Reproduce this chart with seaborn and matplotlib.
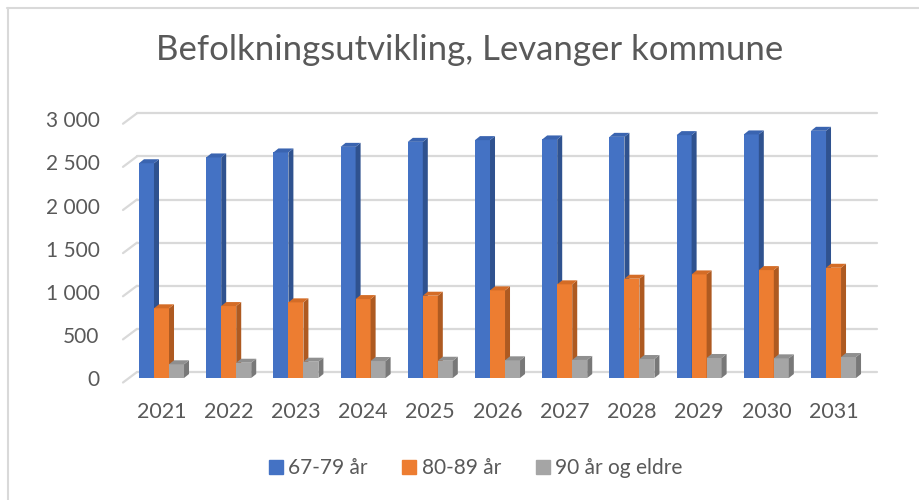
import matplotlib
matplotlib.use("Agg")
import matplotlib.pyplot as plt
import matplotlib.transforms as mtransforms
from matplotlib.patches import Polygon
from matplotlib.lines import Line2D
import seaborn as sns
import pandas as pd

# values
years = ["2021", "2022", "2023", "2024", "2025", "2026", "2027", "2028", "2029", "2030", "2031"]
grp_6779 = [2490, 2557, 2615, 2680, 2738, 2758, 2766, 2796, 2816, 2824, 2866]
grp_8089 = [808, 834, 877, 915, 954, 1016, 1086, 1151, 1201, 1251, 1278]
grp_90 = [159, 177, 189, 197, 200, 205, 209, 220, 232, 228, 243]
groups = ["67-79 år", "80-89 år", "90 år og eldre"]
yticks = [0, 500, 1000, 1500, 2000, 2500, 3000]

colors = ["#4472C4", "#ED7D31", "#A5A5A5"]
side_colors = ["#2F528F", "#AE5A21", "#787878"]
top_colors = ["#3A64B0", "#D46C26", "#8F8F8F"]
txt = "#595959"

rows = []
for name, vals in zip(groups, [grp_6779, grp_8089, grp_90]):
	for y, v in zip(years, vals):
		rows.append({"year": y, "group": name, "value": v})
df = pd.DataFrame(rows)

sns.set_theme(style="white")
plt.rcParams["font.family"] = ["Lato", "DejaVu Sans"]

W, H = 920, 500
fig = plt.figure(figsize=(W / 100, H / 100), dpi=100)
ax = fig.add_axes([137 / W, 122 / H, 740 / W, 276 / H])

sns.barplot(data=df, x="year", y="value", hue="group", palette=colors,
	width=0.67, dodge=True, ax=ax, legend=False, saturation=1, linewidth=0)
ax.set_xlim(-0.3646, 10.647)
ax.set_ylim(0, 3200)
for s in ax.spines.values():
	s.set_visible(False)
ax.set_xlabel("")
ax.set_ylabel("")
ax.set_yticks(yticks)
ax.set_yticklabels(["{:,}".format(v).replace(",", " ") for v in yticks], color=txt, fontsize=15)
ax.tick_params(axis="y", length=0, pad=27)
ax.tick_params(axis="x", length=0, pad=17, labelsize=15.5, labelcolor=txt)

fig.canvas.draw()
ident = mtransforms.IdentityTransform()

# back wall gridlines with the perspective stub on the left
x_left = ax.transAxes.transform((0, 0))[0]
x_right = ax.transAxes.transform((1, 0))[0]
for v in yticks:
	yf = ax.transData.transform((0, v))[1]
	ax.add_line(Line2D([x_left, x_right], [yf + 6, yf + 6], transform=ident,
		color="#D9D9D9", lw=1.6, zorder=0, clip_on=False))
	ax.add_line(Line2D([x_left - 14, x_left], [yf - 4.5, yf + 6], transform=ident,
		color="#D9D9D9", lw=1.6, zorder=0, clip_on=False))

# fake 3D: side and top faces for each bar
dx, dy = 5, 4
n = len(years)
for i, p in enumerate(ax.patches[:3 * n]):
	h = i // n
	p.set_zorder(2 + h)
	x0, y0 = ax.transData.transform((p.get_x(), 0))
	x1, y1 = ax.transData.transform((p.get_x() + p.get_width(), p.get_height()))
	side = Polygon([(x1, y0), (x1 + dx, y0 + dy), (x1 + dx, y1 + dy), (x1, y1)],
		closed=True, transform=ident, facecolor=side_colors[h], edgecolor="none", zorder=2 + h)
	top = Polygon([(x0, y1), (x1, y1), (x1 + dx, y1 + dy), (x0 + dx, y1 + dy)],
		closed=True, transform=ident, facecolor=top_colors[h], edgecolor="none", zorder=2 + h)
	ax.add_patch(side)
	ax.add_patch(top)

fig.text(470 / W, 1 - 50 / H, "Befolkningsutvikling, Levanger kommune",
	ha="center", va="center", fontsize=25, color=txt)

handles = [Line2D([], [], marker="s", linestyle="none", markersize=10.5,
	markerfacecolor=c, markeredgecolor=c) for c in colors]
fig.legend(handles, groups, loc="center", bbox_to_anchor=(474 / W, 1 - 468 / H),
	ncol=3, frameon=False, fontsize=15, handletextpad=0.1, columnspacing=1.5,
	labelcolor=txt, handlelength=1.0)

# chart frame
fig.add_artist(Line2D([7, W], [H - 8, H - 8], transform=ident, color="#D9D9D9", lw=1.5))
fig.add_artist(Line2D([7.5, 7.5], [0, H - 8], transform=ident, color="#D9D9D9", lw=1.5))

fig.savefig("out.png", dpi=100)
